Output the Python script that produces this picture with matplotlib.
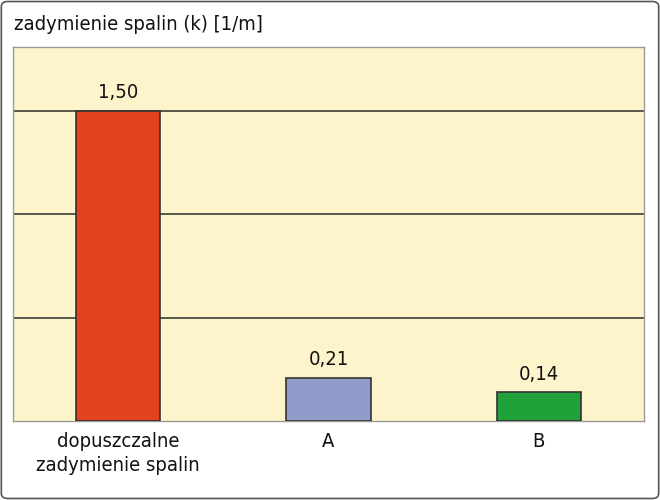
#!/usr/bin/env python3
"""Bar chart: zadymienie spalin (k) [1/m] -- limit vs. samples A and B."""

import matplotlib
matplotlib.use("Agg")
import matplotlib.pyplot as plt
from matplotlib.patches import FancyBboxPatch

plt.rcParams["font.family"] = ["DejaVu Sans"]
plt.rcParams["font.stretch"] = "condensed"

# ─────────────────────────────────────────────────────────────────────────────
CATEGORIES = ["dopuszczalne\nzadymienie spalin", "A", "B"]
VALUES     = [1.50, 0.21, 0.14]
VALUE_TEXT = ["1,50", "0,21", "0,14"]
COLORS     = ["#E4421E", "#919BC9", "#21A139"]
GRID_AT    = [0.5, 1.0, 1.5]
# ─────────────────────────────────────────────────────────────────────────────

fig = plt.figure(figsize=(6.6, 5.0), dpi=100)

# outer frame
fig.patches.append(FancyBboxPatch((0.002, 0.003), 0.996, 0.994,
                                  boxstyle="round,pad=0,rounding_size=0.01",
                                  transform=fig.transFigure, fill=False,
                                  edgecolor="#555555", linewidth=1.2))

ax = fig.add_axes([13 / 660, 79 / 500, 631 / 660, 374 / 500])
ax.set_facecolor("#FEF4CB")

x = range(len(CATEGORIES))
ax.bar(x, VALUES, width=0.4, color=COLORS, edgecolor="#333333",
       linewidth=1.2, zorder=3)

for xi, v, t in zip(x, VALUES, VALUE_TEXT):
    ax.text(xi, v + 0.04, t, ha="center", va="bottom", fontsize=14.5,
            color="#111111")

for g in GRID_AT:
    ax.axhline(g, color="#4A4A42", linewidth=1.3, zorder=1)

ax.set_xlim(-0.5, 2.5)
ax.set_ylim(0, 1.807)
ax.set_yticks([])
ax.set_xticks(list(x))
ax.set_xticklabels(CATEGORIES, fontsize=14.5, color="#111111",
                   linespacing=1.35)
ax.tick_params(axis="x", length=0, pad=8)
for s in ax.spines.values():
    s.set_color("#999999")
    s.set_linewidth(1.0)

fig.text(14 / 660, 1 - 24 / 500, "zadymienie spalin (k) [1/m]",
         ha="left", va="center", fontsize=14.5, color="#111111")

fig.savefig("out.png", dpi=100)
